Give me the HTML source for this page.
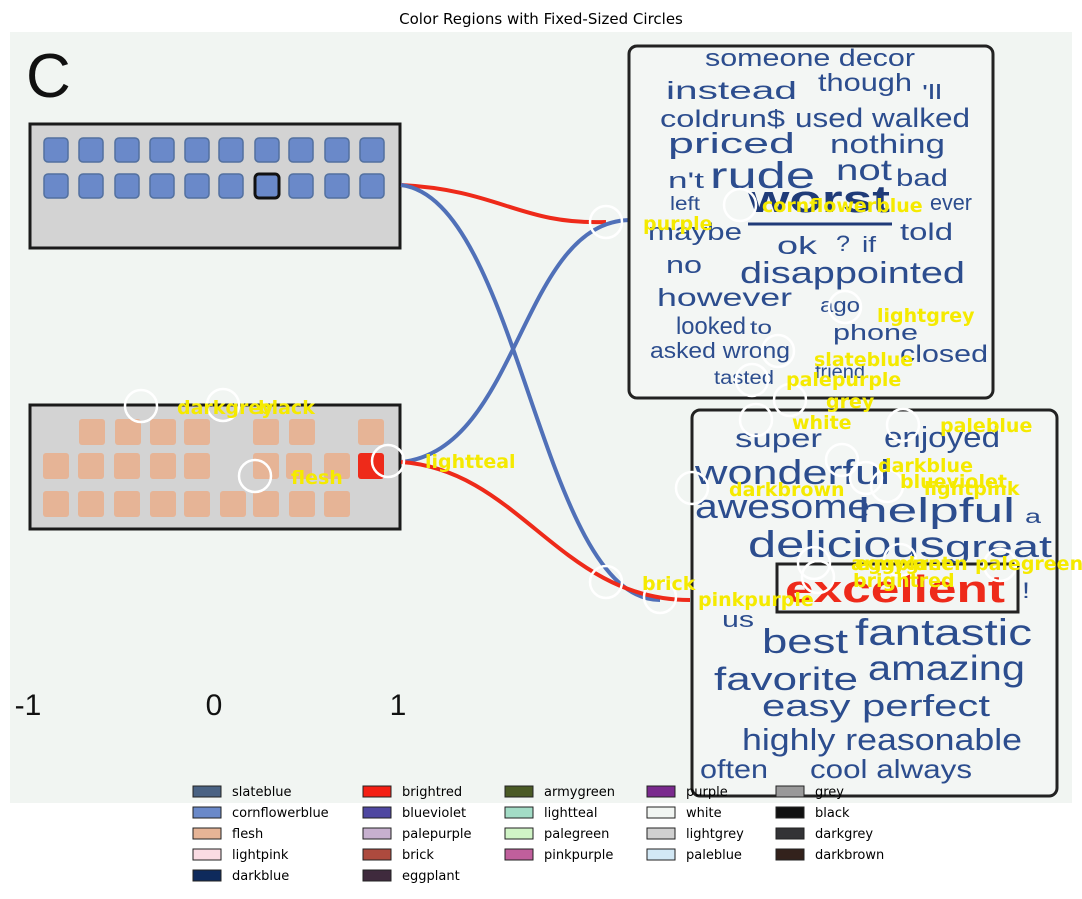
<!DOCTYPE html>
<html><head><meta charset="utf-8"><style>
body{margin:0;background:#fff;font-family:"Liberation Sans","DejaVu Sans",sans-serif}
svg{display:block}
</style></head><body>
<svg id="chart" width="1082" height="899" viewBox="0 0 1082 899" xmlns="http://www.w3.org/2000/svg">
<rect width="1082" height="899" fill="#fff"/>
<text x="541" y="24" text-anchor="middle" font-size="15" font-family="DejaVu Sans, sans-serif">Color Regions with Fixed-Sized Circles</text>
<rect x="10" y="32" width="1062" height="771" fill="#f1f5f2"/>
<text x="26" y="97" font-size="62" fill="#111">C</text>
<g>
<rect x="30" y="124" width="370" height="124" fill="#d3d3d3" stroke="#1a1a1a" stroke-width="3"/>
<g id="blueSq"></g>
</g>
<g>
<rect x="30" y="405" width="370" height="124" fill="#d3d3d3" stroke="#1a1a1a" stroke-width="3"/>
<g id="fleshSq"></g>
</g>
<g font-size="30" fill="#111">
<text x="28" y="715" text-anchor="middle">-1</text>
<text x="214" y="715" text-anchor="middle">0</text>
<text x="398" y="715" text-anchor="middle">1</text>
</g>
<g fill="none" stroke-width="4">
<path d="M401,185 C500,190 520,225 606,222" stroke="#ee2a1a"/>
<path d="M401,185 C520,200 540,600 660,600" stroke="#5070b8"/>
<path d="M401,462 C520,450 520,222 630,220" stroke="#5070b8"/>
<path d="M401,462 C520,470 560,600 690,600" stroke="#ee2a1a"/>
</g>
<g>
<rect x="629" y="46" width="364" height="352" rx="8" fill="#f3f6f4" stroke="#222" stroke-width="3"/>
<g id="topWords" fill="#2c4d8e"></g>
<line x1="748" y1="224" x2="892" y2="224" stroke="#1f3b78" stroke-width="3"/>
</g>
<g>
<rect x="692" y="410" width="365" height="386" rx="8" fill="#f3f6f4" stroke="#222" stroke-width="3"/>
<rect x="777" y="564" width="241" height="48" fill="none" stroke="#222" stroke-width="3"/>
<g id="botWords" fill="#2c4d8e"></g>
</g>
<g id="circles"></g>
<g id="labels" font-family="DejaVu Sans, sans-serif" font-weight="bold" font-size="19" fill="#f5ea00"></g>
<g id="legend" font-size="13" font-family="DejaVu Sans, sans-serif"></g>
</svg>
<script>
const NS="http://www.w3.org/2000/svg";
function mk(t,a,p){const e=document.createElementNS(NS,t);for(const k in a)e.setAttribute(k,a[k]);p.appendChild(e);return e;}
const blueX=[56,91,127,162,197,231,267,301,337,372];
const blueRows=[150,186];
const bs=document.getElementById('blueSq');
blueRows.forEach((y,r)=>blueX.forEach((x,i)=>{
  const e=mk('rect',{x:x-12,y:y-12,width:24,height:24,rx:4,fill:'#6a89c9',stroke:(r==1&&i==6)?'#111':'#52709f','stroke-width':(r==1&&i==6)?3:1.5},bs);
  
  
}));
const fleshRows=[[432,[92,128,163,197,266,302,371]],[466,[56,91,127,163,197,266,299,337,371]],[504,[56,91,127,163,197,233,266,302,337]]];
const fs=document.getElementById('fleshSq');
fleshRows.forEach(([y,xs])=>xs.forEach(x=>{
  const red=(y==466&&x==371);
  const e=mk('rect',{x:x-13,y:y-13,width:26,height:26,rx:3,fill:red?'#ee2a1a':'#e6b496'},fs);
  
  
}));
const topWords=[["someone decor",705,66,24,210],["instead",666,99,25,131],["though",818,91,25,94],["'ll",922,99,20,20],["coldrun$",660,127,24,125],["used walked",795,127,27,175],["priced",668,153,29,127],["nothing",830,153,27,115],["n't",668,188,22,36],["rude",710,188,37,105],["not",836,180,30,56],["bad",896,186,24,52],["left",670,210,19,30],["ever",930,210,22,42],["maybe",648,240,24,94],["told",900,240,24,53],["ok",777,254,25,40],["?",836,251,22,14],["if",862,252,22,14],["no",666,273,24,36],["disappointed",740,283,31,225],["however",657,306,25,135],["ago",820,312,20,40],["looked",676,334,24,70],["to",750,334,19,22],["phone",833,340,22,85],["asked wrong",650,358,22,140],["closed",900,362,24,88],["tasted",714,384,19,60],["friend",815,378,19,50]];
const tw=document.getElementById('topWords');
topWords.forEach(([t,x,y,s,w])=>{const e=mk('text',{x,y,'font-size':s,textLength:w,lengthAdjust:'spacingAndGlyphs'},tw);e.textContent=t;

});
{const e=mk('text',{x:748,y:212,'font-size':38,'font-weight':'bold',fill:'#1f3b78',textLength:142,lengthAdjust:'spacingAndGlyphs'},tw);e.textContent='worst';

}
const botWords=[["super",735,447,26,87],["enjoyed",884,447,29,116],["wonderful",695,484,34,195],["awesome",695,518,34,175],["helpful",858,522,34,157],["a",1025,523,19,16],["delicious",748,557,37,197],["great",945,557,31,107],["!",1022,598,22,8],["us",722,627,22,32],["best",762,653,34,86],["fantastic",855,645,37,177],["favorite",714,690,32,144],["amazing",868,680,35,157],["easy perfect",762,716,31,228],["highly reasonable",742,750,31,280],["often",700,778,26,68],["cool always",810,778,26,162]];
const bw=document.getElementById('botWords');
botWords.forEach(([t,x,y,s,w])=>{const e=mk('text',{x,y,'font-size':s,textLength:w,lengthAdjust:'spacingAndGlyphs'},bw);e.textContent=t;

});
{const e=mk('text',{x:785,y:602,'font-size':38,'font-weight':'bold',fill:'#ee2a1a',textLength:220,lengthAdjust:'spacingAndGlyphs'},bw);e.textContent='excellent';

}
// circle annotations: name, circle x, circle y, label x, label y
const circNames=["purple","cornflowerblue","lightgrey","slateblue","palepurple","grey","white","paleblue","darkblue","blueviolet","lightpink","darkbrown","armygreen","eggplant","palegreen","brightred","brick","pinkpurple","darkgrey","black","flesh","lightteal"];
const circX=[606,740,845,778,752,790,756,903,842,866,887,692,814,900,1000,818,606,660,141,223,255,388];
const circY=[222,205,307,351,380,400,420,425,460,478,486,488,563,560,565,577,582,597,406,405,476,461];
const labX=[643,762,877,814,786,826,792,940,878,900,924,729,851,855,975,853,642,698,177,258,291,425];
const labY=[230,212,322,366,386,408,429,432,472,488,495,496,570,570,570,587,590,606,414,414,484,468];
const cg=document.getElementById('circles'),lg=document.getElementById('labels');
circNames.forEach((n,i)=>{
  const c=mk('circle',{cx:circX[i],cy:circY[i],r:16,fill:'none',stroke:'#fff','stroke-width':2.5},cg);
  
  
  const t=mk('text',{x:labX[i],y:labY[i]},lg);t.textContent=n;
  
  
});
const legNames=["slateblue","cornflowerblue","flesh","lightpink","darkblue","brightred","blueviolet","palepurple","brick","eggplant","armygreen","lightteal","palegreen","pinkpurple","purple","white","lightgrey","paleblue","grey","black","darkgrey","darkbrown"];
const legColors=["#4a6283","#6a89c9","#e6b496","#fadbe3","#0e2a5c","#f41f14","#4e47a1","#c7b0cf","#ad4a3e","#3f2a3d","#4a5a25","#a3dcc6","#d0f4c6","#c05f9c","#7a2a8e","#f1f5f2","#d0d0d0","#d2e8f5","#999999","#111111","#333336","#33221c"];
const legCounts=[5,5,4,4,4];
const colSwX=[193,363,505,647,776];
const lgg=document.getElementById('legend');
let k=0;
legCounts.forEach((cnt,ci)=>{for(let r=0;r<cnt;r++,k++){
  const y=786+r*21;
  const g=mk('g',{},lgg);
  
  
  mk('rect',{x:colSwX[ci],y:y,width:28,height:11,fill:legColors[k],stroke:'#222','stroke-width':1},g);
  const t=mk('text',{x:colSwX[ci]+39,y:y+10},g);t.textContent=legNames[k];
}});
</script>
</body></html>
